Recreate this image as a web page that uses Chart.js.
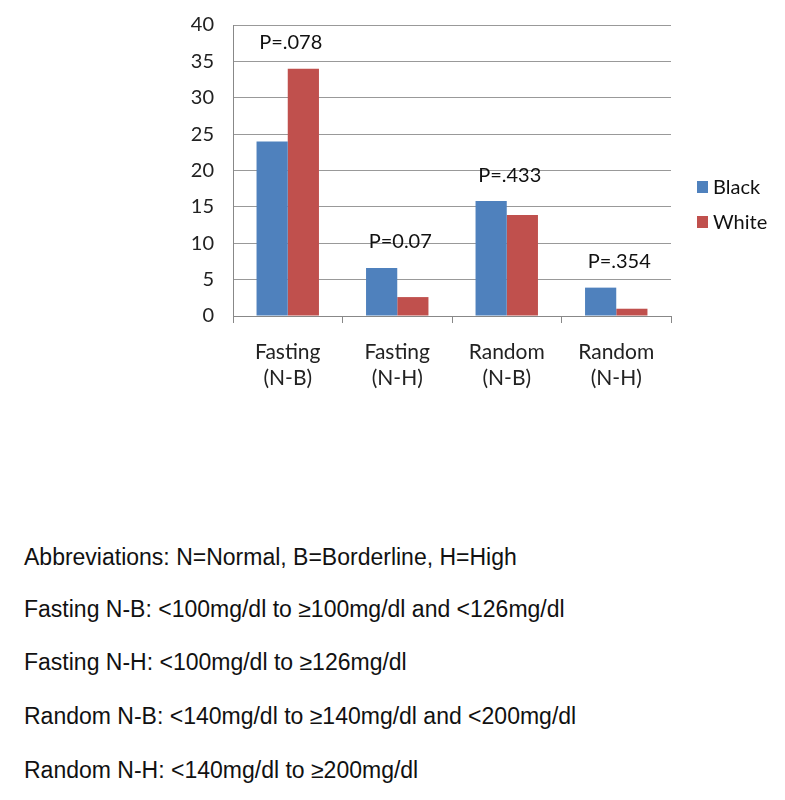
<!DOCTYPE html>
<html><head><meta charset="utf-8">
<script src="https://cdn.jsdelivr.net/npm/chart.js@4.4.1/dist/chart.umd.min.js"></script>
<style>
html,body{margin:0;padding:0;background:#fff;width:785px;height:800px;overflow:hidden}
#wrap{position:absolute;left:0;top:-6px;width:785px;height:426px}
.note{position:absolute;left:24px;font-family:"Liberation Sans",Arial,sans-serif;font-size:23px;color:#111;white-space:nowrap;line-height:1}
</style></head><body>
<div id="wrap"><canvas id="c" width="785" height="426"></canvas></div>
<div class="note" style="top:546px">Abbreviations: N=Normal, B=Borderline, H=High</div>
<div class="note" style="top:598px">Fasting N-B: &lt;100mg/dl to ≥100mg/dl and &lt;126mg/dl</div>
<div class="note" style="top:651px">Fasting N-H: &lt;100mg/dl to ≥126mg/dl</div>
<div class="note" style="top:705px">Random N-B: &lt;140mg/dl to ≥140mg/dl and &lt;200mg/dl</div>
<div class="note" style="top:759px">Random N-H: &lt;140mg/dl to ≥200mg/dl</div>
<script>
const categories = [['Fasting','(N-B)'],['Fasting','(N-H)'],['Random','(N-B)'],['Random','(N-H)']];
const blackValues = [24, 6.6, 15.8, 3.9];
const whiteValues = [34, 2.6, 13.9, 1.0];
const pLabels = ['P=.078','P=0.07','P=.433','P=.354'];
const yTicks = [0,5,10,15,20,25,30,35,40];

const chartFont = 'Lato, "Open Sans", sans-serif';

const pPlugin = {
  id:'pvals',
  afterDatasetsDraw(chart){
    const ctx = chart.ctx;
    const m0 = chart.getDatasetMeta(0), m1 = chart.getDatasetMeta(1);
    ctx.save();
    ctx.font = '20px ' + chartFont;
    ctx.fillStyle = '#111';
    ctx.textAlign = 'center';
    ctx.textBaseline = 'middle';
    pLabels.forEach((t,i)=>{
      const b0 = m0.data[i], b1 = m1.data[i];
      const x = (b0.x + b1.x)/2 + 3;
      const top = Math.min(b0.y, b1.y);
      ctx.fillText(t, x, top - 26);
    });
    // legend
    const ds = chart.data.datasets;
    ctx.font = '20px ' + chartFont;
    ctx.textAlign = 'left';
    ds.forEach((d,i)=>{
      const y = 193 + i*35;
      ctx.fillStyle = d.backgroundColor;
      ctx.fillRect(697, y-6, 11, 12);
      ctx.fillStyle = '#111';
      ctx.fillText(d.label, 713, y+1);
    });
    ctx.restore();
  }
};

new Chart(document.getElementById('c'), {
  type:'bar',
  data:{
    labels:categories,
    datasets:[
      {label:'Black', data:blackValues, backgroundColor:'#4F81BD', categoryPercentage:0.57, barPercentage:1},
      {label:'White', data:whiteValues, backgroundColor:'#C0504D', categoryPercentage:0.57, barPercentage:1}
    ]
  },
  options:{
    responsive:false, animation:false,
    layout:{padding:{left:0,right:114,top:10,bottom:0}},
    plugins:{legend:{display:false},tooltip:{enabled:false}},
    scales:{
      x:{
        afterFit(s){ s.height = 104; },
        grid:{display:true, drawOnChartArea:false, drawTicks:true, tickLength:7, color:'#888', offset:true},
        border:{display:true,color:'#888'},
        ticks:{font:{size:21,family:chartFont,lineHeight:1.25}, color:'#222', padding:16, maxRotation:0}
      },
      y:{
        min:0,max:40,
        afterFit(s){ s.width = 233; },
        afterBuildTicks(s){ s.ticks = yTicks.map(v=>({value:v})); },
        grid:{color:'#999', drawTicks:false},
        border:{display:true,color:'#888'},
        ticks:{font:{size:20,family:chartFont}, color:'#222', padding:19}
      }
    }
  },
  plugins:[pPlugin]
});
</script>
</body></html>
